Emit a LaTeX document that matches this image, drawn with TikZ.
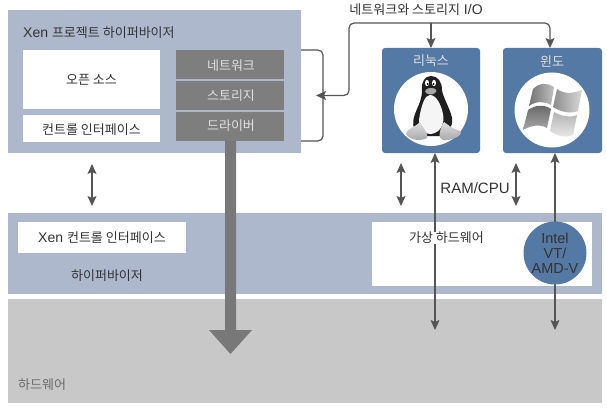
\documentclass[tikz,border=0pt]{standalone}
\usepackage{fontspec}
\setmainfont{Liberation Sans}
\newfontfamily\kr{Noto Sans CJK KR}[Scale=0.93]
\usetikzlibrary{arrows.meta,calc}
\definecolor{bandblue}{HTML}{ADB8CD}
\definecolor{osblue}{HTML}{5479A4}
\definecolor{drvgray}{HTML}{7E7E7E}
\definecolor{hwgray}{HTML}{C8C8C8}
\definecolor{linegray}{HTML}{555555}
\definecolor{txt}{HTML}{333333}
\tikzset{
 x=1pt,y=-1pt,
 box/.style={inner sep=0pt,outer sep=0pt,anchor=north west,minimum width=#1},
 lbl/.style={font=\kr\fontsize{14}{16}\selectfont,text=txt,inner sep=0pt},
 wlbl/.style={font=\kr\fontsize{14}{16}\selectfont,text=white!88!black,inner sep=0pt},
 latin/.style={font=\fontsize{14}{16}\selectfont,text=txt,inner sep=0pt},
 conn/.style={draw=linegray,line width=1.2pt,rounded corners=5pt},
 tip/.style={-{Stealth[length=10pt,width=9pt,inset=2pt]}},
 both/.style={{Stealth[length=10pt,width=9pt,inset=2pt]}-{Stealth[length=10pt,width=9pt,inset=2pt]}},
}
\newcommand{\bx}[6]{\node[box=#4pt,minimum height=#5pt,fill=#6] (#1) at (#2,#3) {};}
\begin{document}
\begin{tikzpicture}
\useasboundingbox (0,0) rectangle (607,409);
% panels
\bx{xen}{8}{10}{293}{143}{bandblue}
\bx{opensrc}{23}{50}{137}{59}{white}
\bx{ctrl}{23}{115}{137}{27}{white}
\bx{net}{176}{50}{108}{29}{drvgray}
\bx{stor}{176}{81}{108}{29}{drvgray}
\bx{drv}{176}{112}{108}{29}{drvgray}
\bx{hyp}{8}{213}{594}{81}{bandblue}
\bx{hw}{8}{299}{594}{104}{hwgray}
\bx{xctrl}{18}{222}{168}{31}{white}
\bx{vhw}{372}{222}{220}{64}{white}
\node[box=98pt,minimum height=105pt,fill=osblue,rounded corners=3pt] (linux) at (382,48) {};
\node[box=99pt,minimum height=105pt,fill=osblue,rounded corners=3pt] (win) at (503,48) {};
\node[circle,fill=white,minimum size=74pt,inner sep=0pt] (lc) at (431,109) {};
\node[circle,fill=white,minimum size=75pt,inner sep=0pt] (wc) at (552,110) {};

% big arrow
\fill[drvgray!95!black] (225,141) -- (236,141) -- (236,330) -- (252,330) -- (230.5,354) -- (209,330) -- (225,330) -- cycle;

% texts
\node[latin,anchor=west] (t1) at (23,33) {Xen {\kr 프로젝트 하이퍼바이저}};
\node[lbl] (t2) at (91.5,80) {오픈 소스};
\node[lbl] (t3) at (91.5,130) {컨트롤 인터페이스};
\node[wlbl] (t10) at (231,66) {네트워크};
\node[wlbl] (t11) at (231,96) {스토리지};
\node[wlbl] (t12) at (231,126) {드라이버};
\node[latin] (t4) at (102,238) {Xen {\kr 컨트롤 인터페이스}};
\node[lbl] (t5) at (107,276) {하이퍼바이저};
\node[lbl,text=gray!85!black,anchor=west] (t6) at (18,385) {하드웨어};
\node[latin] (t7) at (416,10) {{\kr 네트워크와 스토리지} I/O};
\node[wlbl] (t13) at (431,61) {리눅스};
\node[wlbl] (t14) at (552,61) {윈도};

% connectors
\coordinate (brT) at (301,50);
\coordinate (brB) at (301,141);
\draw[conn] (brT) -- (323,50) -- (323,141) -- (brB);
\coordinate (busmid) at (431,23);
\coordinate (inarrow) at (316,95.5);
\draw[conn,tip] (busmid) -| (win.north -| 550,48);
\draw[conn,tip] (busmid) -- (linux.north -| 431,48);
\draw[conn,tip] (busmid) -- (349,23) -- (349,95.5) -- (inarrow);

\coordinate (a1) at (92,164); \coordinate (a2) at (92,206);
\draw[conn,both] (a1) -- (a2);
\coordinate (b1) at (401,163); \coordinate (b2) at (401,206);
\draw[conn,both] (b1) -- (b2);
\coordinate (c1) at (516,163); \coordinate (c2) at (516,206);
\draw[conn,both] (c1) -- (c2);
\coordinate (d1) at (435,153); \coordinate (d2) at (435,330);
\draw[conn,both] (d1) -- (d2);
\coordinate (e1) at (555,153); \coordinate (e2) at (555,330);
\draw[conn,both] (e1) -- (e2);

\node[fill=white,inner sep=1.5pt,lbl] (t8) at (446.5,238) {가상 하드웨어};
\node[font=\fontsize{15}{17}\selectfont,text=txt,inner sep=0pt,fill=white,inner xsep=1pt] (t9) at (475,188) {RAM/CPU};
\node[circle,fill=osblue,minimum size=63pt,inner sep=0pt,align=center,font=\fontsize{14.5}{15}\selectfont,text=black!80] (intel) at (555,253) {Intel\\VT/\\AMD-V};

% Tux
\fill[black!88] (431,76) .. controls (438,76) and (442,82) .. (442,90) .. controls (443,98) and (450,108) .. (452,118) .. controls (453,126) and (449,133) .. (444,136) -- (420,136) .. controls (414,132) and (411,124) .. (415,114) .. controls (418,106) and (422,100) .. (422,90) .. controls (421,82) and (425,76) .. (431,76) -- cycle;
\fill[white!96!black] (430,95) .. controls (436,95) and (441,104) .. (443,114) .. controls (445,124) and (440,133) .. (431,134) .. controls (422,134) and (417,126) .. (420,114) .. controls (422,104) and (425,95) .. (430,95) -- cycle;
\fill[white] (427,83) ellipse (2 and 3.2);
\fill[white] (434,83) ellipse (2 and 3.2);
\fill[black] (427.5,84) circle (1);
\fill[black] (433.5,84) circle (1);
\fill[gray!70] (431,88) .. controls (436,88) and (438,91) .. (435,93) .. controls (432,95) and (429,95) .. (426,93) .. controls (424,91) and (426,88) .. (431,88) -- cycle;
\shade[top color=gray!25,bottom color=gray!70] (420,122) .. controls (423,128) and (429,134) .. (427,138) .. controls (422,141) and (410,141) .. (406,134) .. controls (405,130) and (414,128) .. (420,122) -- cycle;
\shade[top color=gray!25,bottom color=gray!70] (444,122) .. controls (447,124) and (451,128) .. (460,131) .. controls (464,135) and (452,141) .. (443,140) .. controls (437,139) and (440,128) .. (444,122) -- cycle;

% Windows logo
\shade[left color=black!55,right color=black!25] (533,89) .. controls (540,82) and (548,83) .. (554,87) -- (551,105) .. controls (544,101) and (536,101) .. (529,106) -- cycle;
\shade[left color=black!45,right color=black!15] (557,89) .. controls (564,94) and (572,94) .. (582,90) -- (578,111) .. controls (570,114) and (561,112) .. (553,107) -- cycle;
\shade[top color=black!60,bottom color=black!35] (528,110) .. controls (535,105) and (544,104) .. (551,109) -- (547,128) .. controls (540,124) and (532,125) .. (523,130) -- cycle;
\shade[top color=black!30,bottom color=black!8] (554,112) .. controls (561,116) and (570,118) .. (577,115) -- (573,135) .. controls (565,138) and (557,136) .. (550,131) -- cycle;
\end{tikzpicture}
\end{document}
